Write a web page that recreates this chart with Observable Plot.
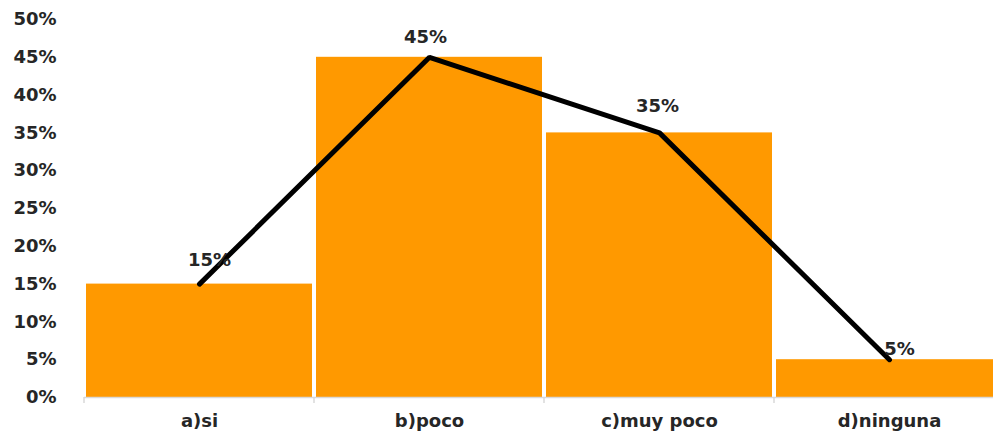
<!DOCTYPE html>
<html>
<head>
<meta charset="utf-8">
<script src="https://cdn.jsdelivr.net/npm/d3@7"></script>
<script src="https://cdn.jsdelivr.net/npm/@observablehq/plot@0.6"></script>
<style>
  html, body { margin: 0; padding: 0; background: #fff; overflow: hidden; }
  #chart { width: 993px; height: 436px; overflow: hidden; }
  #chart svg { display: block; max-width: none !important; }
</style>
</head>
<body>
<div id="chart"></div>
<script>
const categories = ["a)si", "b)poco", "c)muy poco", "d)ninguna"];
const values = [0.15, 0.45, 0.35, 0.05];
const yTicks = [0, 0.05, 0.10, 0.15, 0.20, 0.25, 0.30, 0.35, 0.40, 0.45, 0.50];

const data = categories.map((c, i) => ({category: c, value: values[i]}));

// per-label placement tweaks (Excel-style label offsets)
const labelOffsets = [
  {dx: 10, dy: -24},
  {dx: -4, dy: -20},
  {dx: -2, dy: -27},
  {dx: 10, dy: -10}
];

const font = "'DejaVu Sans', Verdana, sans-serif";

const boundaryTicks = (index, scales, values, dimensions) => {
  const g = d3.create("svg:g");
  const x = scales.x;
  const y0 = scales.y(0);
  const bw = x.bandwidth ? x.bandwidth() : 0;
  const xs = categories.map(c => x(c));
  xs.push(x(categories[categories.length - 1]) + bw);
  g.append("line")
    .attr("x1", xs[0]).attr("x2", dimensions.width)
    .attr("y1", y0 + 0.5).attr("y2", y0 + 0.5)
    .attr("stroke", "#d9d9d9").attr("stroke-width", 1.5);
  for (const xv of xs) {
    g.append("line")
      .attr("x1", xv).attr("x2", xv)
      .attr("y1", y0).attr("y2", y0 + 6)
      .attr("stroke", "#d9d9d9").attr("stroke-width", 1.5);
  }
  return g.node();
};

const plot = Plot.plot({
  width: 1008,
  height: 436,
  marginLeft: 82,
  marginRight: 3,
  marginTop: 19,
  marginBottom: 39,
  style: {fontFamily: font, background: "#fff", maxWidth: "none"},
  x: {domain: categories, padding: 0, label: null},
  y: {domain: [0, 0.5], label: null},
  marks: [
    Plot.barY(data, {x: "category", y: "value", fill: "#FF9900", insetLeft: 2, insetRight: 2}),
    boundaryTicks,
    Plot.line(data, {x: "category", y: "value", stroke: "#000", strokeWidth: 5, strokeLinejoin: "miter"}),
    ...data.map((d, i) => Plot.text([d], {
      x: "category", y: "value",
      text: dd => d3.format(".0%")(dd.value),
      dx: labelOffsets[i].dx, dy: labelOffsets[i].dy,
      fontSize: 18, fontWeight: "bold", fill: "#262626"
    })),
    Plot.axisY({
      ticks: yTicks, tickFormat: d3.format(".0%"), tickSize: 0, tickPadding: 26,
      fontSize: 18, fontWeight: "bold", fill: "#262626", label: null
    }),
    Plot.axisX({
      tickSize: 0, tickPadding: 17, fontSize: 18, fontWeight: "bold", fill: "#262626", label: null,
      style: {letterSpacing: "1px"}
    })
  ]
});

document.getElementById("chart").appendChild(plot);
</script>
</body>
</html>
